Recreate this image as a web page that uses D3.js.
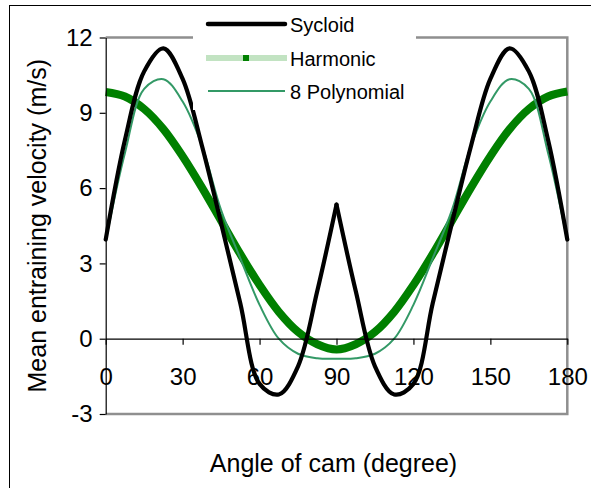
<!DOCTYPE html>
<html>
<head>
<meta charset="utf-8">
<script src="https://cdn.jsdelivr.net/npm/d3@7"></script>
<style>
  html, body { margin: 0; padding: 0; background: #fff; }
  svg { display: block; font-family: "Liberation Sans", Arial, sans-serif; }
</style>
</head>
<body>
<svg id="chart" width="591" height="488"></svg>
<script>
// Cam angle samples (degrees)
const angles = [0, 7.5, 15, 22.5, 30, 37.5, 45, 52.5, 60, 67.5, 75, 82.5, 90,
                97.5, 105, 112.5, 120, 127.5, 135, 142.5, 150, 157.5, 165, 172.5, 180];

// Mean entraining velocity (m/s) for each cam profile
const sycloid = [3.95, 7.92, 10.65, 11.57, 10.35, 7.7, 4.6, 1.4, -1.8, -2.22, -1.1, 1.9, 5.34,
                 1.9, -1.1, -2.22, -1.8, 1.4, 4.6, 7.7, 10.35, 11.57, 10.65, 7.92, 3.95];
const harmonic = [9.83, 9.65, 9.15, 8.35, 7.27, 6.03, 4.7, 3.37, 2.14, 1.07, 0.27, -0.22, -0.43,
                  -0.22, 0.27, 1.07, 2.14, 3.37, 4.7, 6.03, 7.27, 8.35, 9.15, 9.65, 9.85];
const polynomial = [3.9, 7.4, 9.95, 10.34, 9.45, 7.7, 5.12, 3.2, 1.35, 0.0, -0.6, -0.78, -0.8,
                    -0.78, -0.6, 0.0, 1.35, 3.2, 5.12, 7.7, 9.45, 10.34, 9.95, 7.4, 3.9];

const seriesNames = ["Sycloid", "Harmonic", "8 Polynomial"];
const xTicks = [0, 30, 60, 90, 120, 150, 180];
const yTicks = [-3, 0, 3, 6, 9, 12];
const xTitle = "Angle of cam (degree)";
const yTitle = "Mean entraining velocity (m/s)";

const svg = d3.select("#chart");
const W = 591, H = 488;
const plot = { left: 105.7, right: 567.3, top: 37.5, bottom: 414 };

const x = d3.scaleLinear().domain([0, 180]).range([plot.left, plot.right]);
const y = d3.scaleLinear().domain([-3, 12]).range([plot.bottom, plot.top]);

// page background and outer frame
svg.append("rect").attr("width", W).attr("height", H).attr("fill", "#fff");
svg.append("rect")
  .attr("x", 9.5).attr("y", 5.5).attr("width", 640).attr("height", 520)
  .attr("fill", "none").attr("stroke", "#000").attr("stroke-width", 1);

// grey plot frame (top, right, bottom)
const frameColor = "#8f8f8f";
svg.append("path")
  .attr("d", `M${plot.left},${plot.top}H${plot.right}V${plot.bottom}H${plot.left}`)
  .attr("fill", "none").attr("stroke", frameColor).attr("stroke-width", 2.5);

const toPoints = vals => angles.map((a, i) => ({ a, v: vals[i] }));
const line = d3.line().x(d => x(d.a)).y(d => y(d.v)).curve(d3.curveCatmullRom.alpha(0.5));

const g = svg.append("g");

// Harmonic (drawn as a dense marker trail -> thick line)
g.append("path").datum(toPoints(harmonic))
  .attr("d", line).attr("fill", "none")
  .attr("stroke", "#008000").attr("stroke-width", 8).attr("stroke-linejoin", "round");

// 8th order polynomial
g.append("path").datum(toPoints(polynomial))
  .attr("d", line).attr("fill", "none")
  .attr("stroke", "#339966").attr("stroke-width", 2);

// Sycloid: two arcs meeting at the cusp at 90 degrees
const syc = toPoints(sycloid);
[syc.filter(d => d.a <= 90), syc.filter(d => d.a >= 90)].forEach(part => {
  g.append("path").datum(part)
    .attr("d", line).attr("fill", "none")
    .attr("stroke", "#000").attr("stroke-width", 4.2)
    .attr("stroke-linejoin", "round").attr("stroke-linecap", "round");
});

// axes
const fs = 24;
const plainNum = d => String(d);
const yAxis = d3.axisLeft(y).tickValues(yTicks).tickSize(6).tickSizeOuter(0).tickPadding(7)
  .tickFormat(plainNum);
const ya = svg.append("g").attr("transform", `translate(${plot.left},0)`).call(yAxis);
ya.selectAll("text").attr("font-size", fs).attr("fill", "#000")
  .attr("font-family", "Liberation Sans, Arial, sans-serif");

const xAxis = d3.axisBottom(x).tickValues(xTicks).tickSize(6).tickSizeOuter(0).tickPadding(23)
  .tickFormat(plainNum);
const xa = svg.append("g").attr("transform", `translate(0,${y(0)})`).call(xAxis);
xa.selectAll("text").attr("font-size", fs).attr("fill", "#000")
  .attr("font-family", "Liberation Sans, Arial, sans-serif");

[ya, xa].forEach(a => {
  a.select(".domain").attr("stroke", "#000").attr("stroke-width", 1.2);
  a.selectAll(".tick line").attr("stroke", "#000").attr("stroke-width", 1.2);
});

// axis titles
const tfs = 25;
svg.append("text")
  .attr("x", (plot.left + plot.right) / 2 - 3).attr("y", 472)
  .attr("text-anchor", "middle").attr("font-size", tfs).text(xTitle);
svg.append("text")
  .attr("transform", `translate(46,${(plot.top + plot.bottom) / 2}) rotate(-90)`)
  .attr("text-anchor", "middle").attr("font-size", tfs).text(yTitle);

// legend
const lg = svg.append("g");
lg.append("rect").attr("x", 193).attr("y", 7).attr("width", 223).attr("height", 103).attr("fill", "#fff");
const rows = [
  { name: seriesNames[0], y: 24 },
  { name: seriesNames[1], y: 58 },
  { name: seriesNames[2], y: 91 }
];
lg.append("line").attr("x1", 208).attr("x2", 285).attr("y1", rows[0].y).attr("y2", rows[0].y)
  .attr("stroke", "#000").attr("stroke-width", 4.5).attr("stroke-linecap", "round");
lg.append("rect").attr("x", 206).attr("y", rows[1].y - 3).attr("width", 81).attr("height", 6)
  .attr("fill", "#c2e3c2");
lg.append("rect").attr("x", 243).attr("y", rows[1].y - 3).attr("width", 6).attr("height", 6)
  .attr("fill", "#008000");
lg.append("line").attr("x1", 208).attr("x2", 285).attr("y1", rows[2].y).attr("y2", rows[2].y)
  .attr("stroke", "#339966").attr("stroke-width", 2);
rows.forEach(r => {
  lg.append("text").attr("x", 290).attr("y", r.y + 7.5).attr("font-size", 20).text(r.name);
});
</script>
</body>
</html>
